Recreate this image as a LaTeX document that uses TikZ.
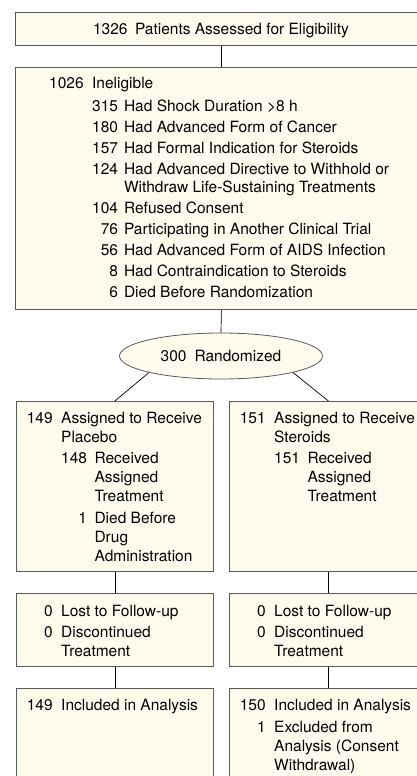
\documentclass[tikz,border=0pt]{standalone}
\usepackage{fontspec}
\setmainfont{TeX Gyre Heros}
\usetikzlibrary{shapes.geometric}
\definecolor{boxfill}{HTML}{FFFCEE}
\definecolor{boxline}{HTML}{5A5A5A}
\tikzset{
  flowbox/.style={draw=boxline, fill=boxfill, line width=0.8pt, inner sep=0pt, anchor=north west, rectangle},
  flowtext/.style={inner sep=0pt, anchor=base west, font=\fontsize{15.5}{19}\selectfont},
  link/.style={draw=black, line width=0.7pt},
}
\begin{document}
\begin{tikzpicture}[x=1pt, y=-1pt]
\useasboundingbox (0,0) rectangle (417,776);
\clip (0,0) rectangle (417,776);
\fill[white] (0,0) rectangle (417,776);
% boxes
\node[flowbox, minimum width=412pt, minimum height=33pt] (top) at (15,12) {};
\node[flowbox, minimum width=412pt, minimum height=242pt] (inel) at (15,67) {};
\node[draw=boxline, fill=boxfill, line width=0.8pt, ellipse, inner sep=0pt,
      minimum width=203pt, minimum height=46pt, font=\fontsize{15.5}{19}\selectfont]
      (rand) at (221,356) {300\hspace{8pt}Randomized};
\node[flowbox, minimum width=197pt, minimum height=170pt] (L1) at (16,401) {};
\node[flowbox, minimum width=198pt, minimum height=170pt] (R1) at (229,401) {};
\node[flowbox, minimum width=197pt, minimum height=73pt] (L2) at (16,593) {};
\node[flowbox, minimum width=198pt, minimum height=73pt] (R2) at (229,593) {};
\node[flowbox, minimum width=197pt, minimum height=110pt] (L3) at (16,688) {};
\node[flowbox, minimum width=198pt, minimum height=110pt] (R3) at (229,688) {};
% connectors
\draw[link] (top.south) -- (inel.north);
\draw[link] (inel.south) -- (rand.north);
\draw[link] (rand.south west) -- (L1.north);
\draw[link] (rand.south east) -- (R1.north);
\draw[link] (L1.south) -- (L2.north);
\draw[link] (R1.south) -- (R2.north);
\draw[link] (L2.south) -- (L3.north);
\draw[link] (R2.south) -- (R3.north);
% texts
\node[flowtext, anchor=base] (ttop) at (221,34.4) {1326\hspace{7.5pt}Patients Assessed for Eligibility};
\node[flowtext, font=\fontsize{15.5}{18}\selectfont] (tinel) at (49,88.4) {%
\begin{tabular}[t]{@{}r@{\hspace{8.5pt}}r@{\hspace{6pt}}l@{}}
1026 & \multicolumn{2}{@{}l@{}}{Ineligible}\\[5pt]
 & 315 & Had Shock Duration >8 h\\[3pt]
 & 180 & Had Advanced Form of Cancer\\[3pt]
 & 157 & Had Formal Indication for Steroids\\[3pt]
 & 124 & Had Advanced Directive to Withhold or\\
 & & Withdraw Life-Sustaining Treatments\\[3pt]
 & 104 & Refused Consent\\[3pt]
 & 76 & Participating in Another Clinical Trial\\[3pt]
 & 56 & Had Advanced Form of AIDS Infection\\[3pt]
 & 8 & Had Contraindication to Steroids\\[3pt]
 & 6 & Died Before Randomization
\end{tabular}};
\node[flowtext] (tL1) at (26.65,423.4) {%
\begin{tabular}[t]{@{}r@{\hspace{8.5pt}}r@{\hspace{7.5pt}}l@{}}
149 & \multicolumn{2}{@{}l@{}}{Assigned to Receive}\\
 & \multicolumn{2}{@{}l@{}}{Placebo}\\[2.5pt]
 & 148 & Received\\
 & & Assigned\\
 & & Treatment\\[2.5pt]
 & 1 & Died Before\\
 & & Drug\\
 & & Administration
\end{tabular}};
\node[flowtext] (tR1) at (239.65,423.4) {%
\begin{tabular}[t]{@{}r@{\hspace{8.5pt}}r@{\hspace{7.5pt}}l@{}}
151 & \multicolumn{2}{@{}l@{}}{Assigned to Receive}\\
 & \multicolumn{2}{@{}l@{}}{Steroids}\\[2.5pt]
 & 151 & Received\\
 & & Assigned\\
 & & Treatment
\end{tabular}};
\node[flowtext] (tL2) at (26.65,616.4) {%
\begin{tabular}[t]{@{}r@{\hspace{8.5pt}}l@{}}
\hphantom{00}0 & Lost to Follow-up\\[2pt]
0 & Discontinued\\
 & Treatment
\end{tabular}};
\node[flowtext] (tR2) at (239.65,616.4) {%
\begin{tabular}[t]{@{}r@{\hspace{8.5pt}}l@{}}
\hphantom{00}0 & Lost to Follow-up\\[2pt]
0 & Discontinued\\
 & Treatment
\end{tabular}};
\node[flowtext] (tL3) at (26.65,710.4) {%
\begin{tabular}[t]{@{}r@{\hspace{8.5pt}}l@{}}
149 & Included in Analysis
\end{tabular}};
\node[flowtext] (tR3) at (239.65,710.4) {%
\begin{tabular}[t]{@{}r@{\hspace{8.5pt}}l@{}}
150 & Included in Analysis\\[3.5pt]
1 & Excluded from\\
 & Analysis (Consent\\
 & Withdrawal)
\end{tabular}};
\end{tikzpicture}
\end{document}
